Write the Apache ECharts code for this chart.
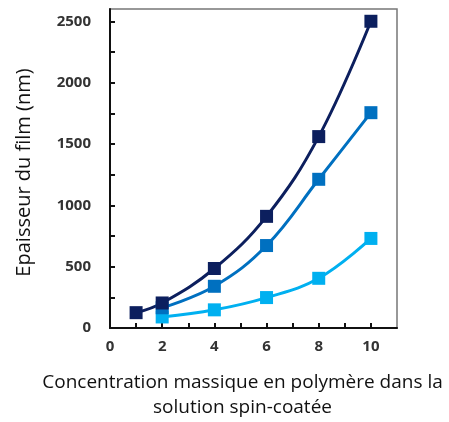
<!DOCTYPE html>
<html><head><meta charset="utf-8">
<script src="https://cdn.jsdelivr.net/npm/echarts@6/dist/echarts.min.js"></script>
<style>html,body{margin:0;padding:0;background:#fff}#c{width:449px;height:422px}</style>
</head><body><div id="c"></div>
<script>
const xDark = [1, 2, 4, 6, 8, 10];
const yDark = [125, 204, 485, 910, 1560, 2500];
const xMed = [2, 4, 6, 8, 10];
const yMed = [165, 340, 672, 1212, 1755];
const xLight = [2, 4, 6, 8, 10];
const yLight = [90, 148, 248, 405, 730];
const yTicks = [0, 250, 500, 750, 1000, 1250, 1500, 1750, 2000, 2250, 2500];
const yLabels = [0, 500, 1000, 1500, 2000, 2500];
const xTicks = [0, 1, 2, 3, 4, 5, 6, 7, 8, 9, 10];
const xLabels = [0, 2, 4, 6, 8, 10];
const xTitle = 'Concentration massique en polymère dans la\nsolution spin-coatée';
const yTitle = 'Epaisseur du film (nm)';

const pair = (xs, ys) => xs.map((x, i) => [x, ys[i]]);
const chart = echarts.init(document.getElementById('c'));
const mk = (name, xs, ys, color) => ({
  name, type: 'line', data: pair(xs, ys), smooth: 0.4,
  symbol: 'rect', symbolSize: 13,
  lineStyle: {color, width: 3}, itemStyle: {color},
  animation: false
});
const lab = {margin: 0, color: '#333', fontWeight: 'bold', fontSize: 15, fontFamily: 'Open Sans', formatter: v => String(v)};
chart.setOption({
  animation: false,
  grid: {left: 110, top: 9, right: 52, bottom: 94, containLabel: false, outerBoundsMode: 'none',
         show: true, borderColor: '#777', borderWidth: 1.5},
  xAxis: {
    type: 'value', min: 0, max: 11,
    axisLine: {show: true, lineStyle: {color: '#111', width: 2}},
    axisTick: {show: true, inside: true, length: 5, customValues: xTicks, lineStyle: {color: '#111', width: 2}},
    axisLabel: Object.assign({}, lab, {customValues: xLabels, margin: 11}),
    splitLine: {show: false},
    name: xTitle, nameLocation: 'middle', nameGap: 42,
    nameTextStyle: {color: '#111', fontSize: 19, fontFamily: 'Open Sans', lineHeight: 25, padding: [0, 22, 0, 0]}
  },
  yAxis: {
    type: 'value', min: 0, max: 2600,
    axisLine: {show: true, lineStyle: {color: '#111', width: 2}},
    axisTick: {show: true, inside: true, length: 5, customValues: yTicks, lineStyle: {color: '#111', width: 2}},
    axisLabel: Object.assign({}, lab, {customValues: yLabels, margin: 19}),
    splitLine: {show: false},
    name: yTitle, nameLocation: 'middle', nameGap: 76, nameRotate: 90,
    nameTextStyle: {color: '#111', fontSize: 20, fontFamily: 'Open Sans', padding: [0, 8, 0, 0]}
  },
  series: [
    mk('light', xLight, yLight, '#00b0f0'),
    mk('medium', xMed, yMed, '#0070c0'),
    mk('dark', xDark, yDark, '#0c1f5e')
  ]
});
</script></body></html>
